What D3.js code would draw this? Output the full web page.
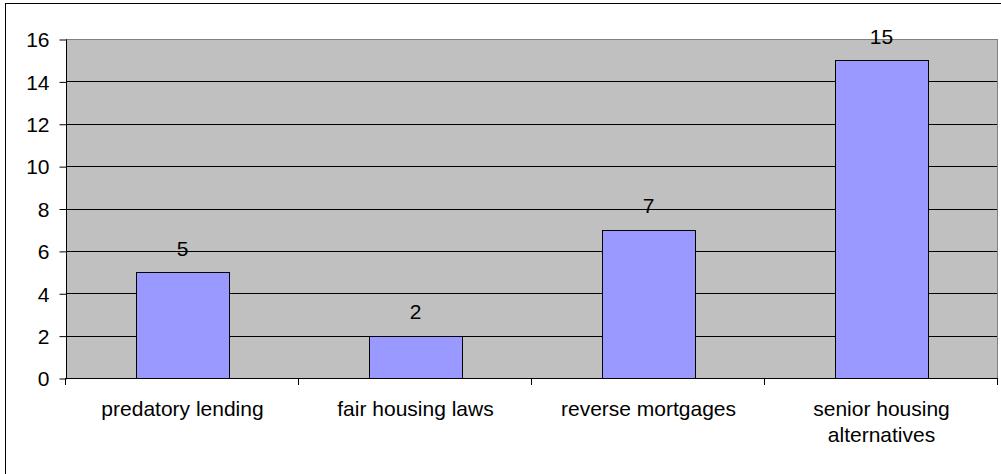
<!DOCTYPE html>
<html>
<head>
<meta charset="utf-8">
<script src="https://cdn.jsdelivr.net/npm/d3@7"></script>
<style>
  body { margin: 0; background: #fff; }
  svg { display: block; font-family: Arial, "Liberation Sans", sans-serif; }
</style>
</head>
<body>
<svg id="chart" width="1001" height="474"></svg>
<script>
// chart data
var categories = [['predatory lending'], ['fair housing laws'], ['reverse mortgages'], ['senior housing', 'alternatives']];
var values = [5, 2, 7, 15];
var yTicks = [0, 2, 4, 6, 8, 10, 12, 14, 16];

var svg = d3.select('#chart');
var plot = {left: 66, right: 998, top: 39, bottom: 378};

// outer chart frame (runs off the right and bottom edges)
svg.append('rect')
    .attr('x', 5.5).attr('y', 3.5)
    .attr('width', 1010).attr('height', 490)
    .attr('fill', '#fff')
    .attr('stroke', '#000');

var x = d3.scaleBand()
    .domain(d3.range(categories.length))
    .range([plot.left, plot.right])
    .paddingInner(0)
    .paddingOuter(0);

var y = d3.scaleLinear()
    .domain([0, 16])
    .range([plot.bottom, plot.top]);

// plot area background
svg.append('rect')
    .attr('x', plot.left).attr('y', plot.top)
    .attr('width', plot.right - plot.left)
    .attr('height', plot.bottom - plot.top)
    .attr('fill', '#c0c0c0');

// gridlines
svg.append('g')
    .selectAll('line')
    .data(yTicks.filter(function(d) { return d > 0 && d < 16; }))
    .enter().append('line')
    .attr('x1', plot.left).attr('x2', plot.right)
    .attr('y1', function(d) { return Math.round(y(d)) + 0.5; })
    .attr('y2', function(d) { return Math.round(y(d)) + 0.5; })
    .attr('stroke', '#000');

// plot border
svg.append('rect')
    .attr('x', plot.left + 0.5).attr('y', plot.top + 0.5)
    .attr('width', plot.right - plot.left - 1)
    .attr('height', plot.bottom - plot.top)
    .attr('fill', 'none')
    .attr('stroke', '#808080');

// bars
var barW = x.bandwidth() * 0.4;
svg.append('g')
    .selectAll('rect')
    .data(values)
    .enter().append('rect')
    .attr('x', function(d, i) { return Math.round(x(i) + (x.bandwidth() - barW) / 2) + 0.5; })
    .attr('y', function(d) { return Math.round(y(d)) + 0.5; })
    .attr('width', Math.round(barW))
    .attr('height', function(d) { return Math.round(y(0)) - Math.round(y(d)); })
    .attr('fill', '#9999ff')
    .attr('stroke', '#000');

// value labels
svg.append('g')
    .selectAll('text')
    .data(values)
    .enter().append('text')
    .attr('x', function(d, i) { return x(i) + x.bandwidth() / 2; })
    .attr('y', function(d) { return y(d) - 16.5; })
    .attr('text-anchor', 'middle')
    .attr('font-size', 21)
    .attr('fill', '#000')
    .text(function(d) { return d; });

// y axis
var yAxis = d3.axisLeft(y).tickValues(yTicks).tickSize(7).tickPadding(10);
var gy = svg.append('g')
    .attr('transform', 'translate(' + (plot.left + 0.5) + ',0.5)')
    .call(yAxis);
gy.select('.domain').attr('stroke', '#000').attr('d', 'M0,' + (plot.top) + 'V' + (plot.bottom));
gy.selectAll('.tick line').attr('stroke', '#000');
gy.selectAll('.tick text')
    .attr('font-size', 21)
    .attr('font-family', 'Arial, "Liberation Sans", sans-serif')
    .attr('fill', '#000')
    .attr('dy', '0.35em');

// x axis line and category ticks
var gx = svg.append('g');
gx.append('line')
    .attr('x1', plot.left).attr('x2', plot.right)
    .attr('y1', plot.bottom + 0.5).attr('y2', plot.bottom + 0.5)
    .attr('stroke', '#000');
gx.selectAll('line.ct')
    .data(d3.range(categories.length + 1))
    .enter().append('line')
    .attr('class', 'ct')
    .attr('x1', function(i) { return Math.round(i < categories.length ? x(i) : plot.right) - 0.5; })
    .attr('x2', function(i) { return Math.round(i < categories.length ? x(i) : plot.right) - 0.5; })
    .attr('y1', plot.bottom).attr('y2', plot.bottom + 7)
    .attr('stroke', '#000');

// category labels
var labels = gx.selectAll('text.cat')
    .data(categories)
    .enter().append('text')
    .attr('class', 'cat')
    .attr('text-anchor', 'middle')
    .attr('font-size', 21)
    .attr('fill', '#000');
labels.selectAll('tspan')
    .data(function(d, i) { return d.map(function(t) { return {t: t, i: i}; }); })
    .enter().append('tspan')
    .attr('x', function(d) { return x(d.i) + x.bandwidth() / 2; })
    .attr('y', function(d, j) { return 416 + j * 26; })
    .text(function(d) { return d.t; });
</script>
</body>
</html>
